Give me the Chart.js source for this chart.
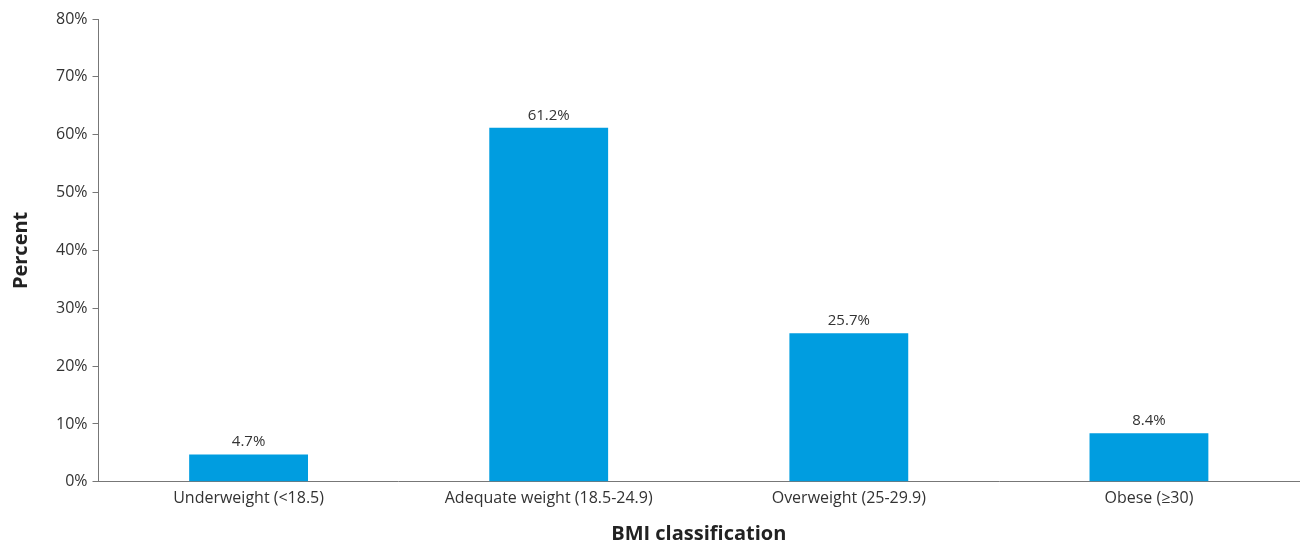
<!DOCTYPE html>
<html lang="en">
<head>
  <meta charset="UTF-8" />
  <title>BMI classification</title>
  <script src="https://cdn.jsdelivr.net/npm/chart.js"></script>
  <style>
    html, body { margin: 0; padding: 0; background: #fff; }
    #wrap { width: 1300px; height: 541px; }
  </style>
</head>
<body>
  <div id="wrap"><canvas id="bmiChart"></canvas></div>

  <script>
    const categories = ["Underweight (<18.5)", "Adequate weight (18.5-24.9)", "Overweight (25-29.9)", "Obese (≥30)"];
    const percents = [4.7, 61.2, 25.7, 8.4];
    const yTicks = [0, 10, 20, 30, 40, 50, 60, 70, 80];

    const fontFamily = "'Open Sans', 'Noto Sans', sans-serif";

    // draw the value above each bar
    const valueLabels = {
      id: "valueLabels",
      afterDatasetsDraw(chart) {
        const c = chart.ctx;
        const meta = chart.getDatasetMeta(0);
        c.save();
        c.font = "15px " + fontFamily;
        c.fillStyle = "#333";
        c.textAlign = "center";
        c.textBaseline = "bottom";
        meta.data.forEach((bar, i) => {
          c.fillText(percents[i].toFixed(1) + "%", bar.x, bar.y - 5);
        });
        c.restore();
      }
    };

    new Chart(document.getElementById("bmiChart"), {
      type: "bar",
      data: {
        labels: categories,
        datasets: [{
          data: percents,
          backgroundColor: "#009de0",
          categoryPercentage: 0.8,
          barPercentage: 0.495
        }]
      },
      options: {
        responsive: true,
        maintainAspectRatio: false,
        animation: false,
        layout: { padding: { top: 19, right: 1, left: 9, bottom: -3 } },
        plugins: {
          legend: { display: false },
          tooltip: { enabled: false }
        },
        scales: {
          x: {
            grid: { display: false, drawTicks: false },
            border: { color: "#777", width: 1 },
            ticks: { color: "#333", font: { family: fontFamily, size: 16 }, padding: 7 },
            title: {
              display: true,
              text: "BMI classification",
              color: "#222",
              font: { family: fontFamily, size: 20, weight: "bold", lineHeight: 1 },
              padding: { top: 9, bottom: 0 }
            }
          },
          y: {
            min: 0,
            max: 80,
            afterBuildTicks(axis) { axis.ticks = yTicks.map(v => ({ value: v })); },
            grid: { drawOnChartArea: false, tickLength: 6, color: "#777" },
            border: { color: "#777", width: 1 },
            ticks: {
              color: "#333",
              font: { family: fontFamily, size: 16 },
              padding: 5,
              callback: v => v + "%"
            },
            title: {
              display: true,
              text: "Percent",
              color: "#222",
              font: { family: fontFamily, size: 20, weight: "bold" },
              padding: { top: 0, bottom: 18 }
            }
          }
        }
      },
      plugins: [valueLabels]
    });
  </script>
</body>
</html>
